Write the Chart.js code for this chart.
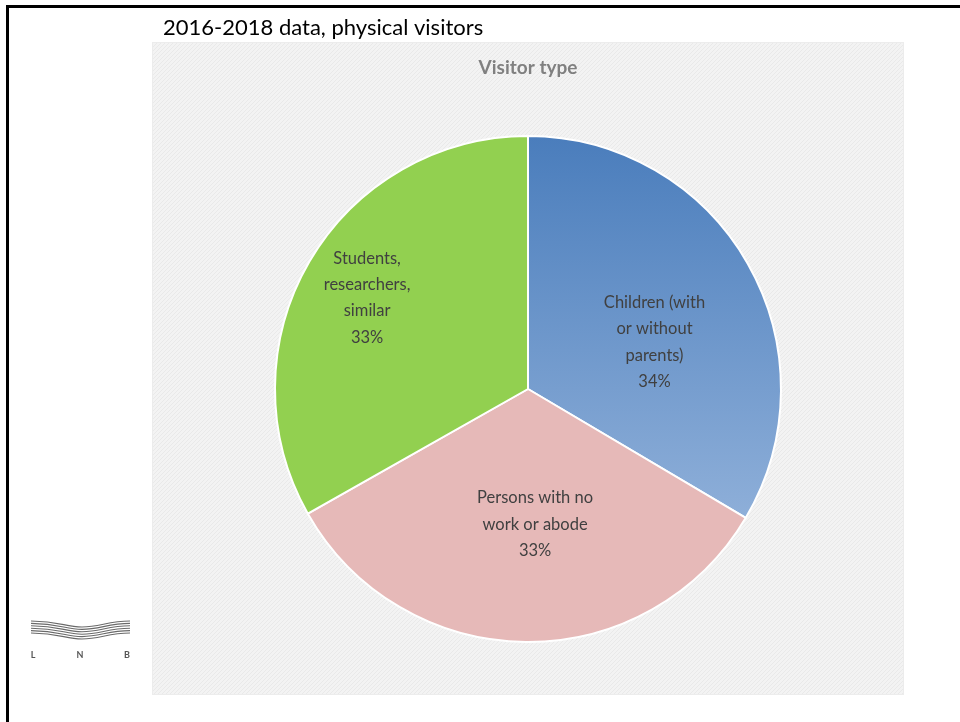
<!DOCTYPE html>
<html>
<head>
<meta charset="utf-8">
<script src="https://cdn.jsdelivr.net/npm/chart.js@4.4.1/dist/chart.umd.min.js"></script>
<style>
  html, body { margin: 0; padding: 0; background: #ffffff; }
  #wrap { position: relative; width: 960px; height: 722px; }
  canvas { display: block; }
</style>
</head>
<body>
<div id="wrap"><canvas id="c" width="960" height="722"></canvas></div>
<script>
// ---- Data ----
const chartTitle = "Visitor type";
const headerText = "2016-2018 data, physical visitors";
const categories = [
  ["Children (with", "or without", "parents)"],
  ["Persons with no", "work or abode"],
  ["Students,", "researchers,", "similar"]
];
const shares = [33.5, 33.3, 33.2];
const logoLetters = ["L", "N", "B"];

const FONT = "Lato, 'Open Sans', sans-serif";

// label offsets relative to pie radius (style/position options)
const labelOffsets = [[0.50, -0.185], [0.028, 0.535], [-0.636, -0.36]];

function makePattern(ctx) {
  const p = document.createElement('canvas');
  p.width = 4; p.height = 4;
  const pc = p.getContext('2d');
  pc.fillStyle = '#f3f3f3';
  pc.fillRect(0, 0, 4, 4);
  pc.fillStyle = '#e9e9e9';
  for (let i = 0; i < 4; i++) pc.fillRect(i, 3 - i, 1, 1);
  return ctx.createPattern(p, 'repeat');
}

const backdropPlugin = {
  id: 'backdrop',
  beforeDraw(chart) {
    const ctx = chart.ctx;
    ctx.save();
    ctx.fillStyle = '#ffffff';
    ctx.fillRect(0, 0, chart.width, chart.height);
    // frame lines
    ctx.fillStyle = '#000000';
    ctx.fillRect(6, 5, chart.width - 6, 3);
    ctx.fillRect(6, 5, 3, chart.height - 5);
    // panel
    ctx.fillStyle = makePattern(ctx);
    ctx.fillRect(152, 42, 752, 653);
    ctx.strokeStyle = '#ececec';
    ctx.lineWidth = 1;
    ctx.strokeRect(152.5, 42.5, 751, 652);
    // header
    ctx.fillStyle = '#000000';
    ctx.font = "22px " + FONT;
    ctx.textBaseline = 'alphabetic';
    ctx.textAlign = 'left';
    ctx.fillText(headerText, 163, 35);
    // logo waves
    ctx.strokeStyle = '#6a6a6a';
    ctx.lineWidth = 1.1;
    for (let i = 0; i < 6; i++) {
      const y0 = 621 + i * 2.4;
      ctx.beginPath();
      ctx.moveTo(31, y0);
      ctx.bezierCurveTo(60, y0, 65, y0 + 6, 82, y0 + 6);
      ctx.bezierCurveTo(100, y0 + 6, 108, y0, 130, y0);
      ctx.stroke();
    }
    ctx.fillStyle = '#555555';
    ctx.font = "bold 9px " + FONT;
    ctx.textAlign = 'center';
    ctx.textBaseline = 'middle';
    [33, 80, 127].forEach((x, i) => ctx.fillText(logoLetters[i], x, 655));
    ctx.restore();
  }
};

const labelPlugin = {
  id: 'sliceLabels',
  afterDatasetsDraw(chart) {
    const ctx = chart.ctx;
    const meta = chart.getDatasetMeta(0);
    const data = chart.data.datasets[0].data;
    const total = data.reduce((a, b) => a + b, 0);
    ctx.save();
    ctx.fillStyle = '#404040';
    ctx.font = "16.5px " + FONT;
    ctx.textAlign = 'center';
    ctx.textBaseline = 'middle';
    meta.data.forEach((arc, i) => {
      const r = arc.outerRadius;
      const cx = arc.x + labelOffsets[i][0] * r;
      const cy = arc.y + labelOffsets[i][1] * r;
      const lines = [...chart.data.labels[i], Math.round(data[i] / total * 100) + '%'];
      const lh = 26.3;
      const startY = cy - (lines.length - 1) * lh / 2;
      lines.forEach((t, k) => ctx.fillText(t, cx, startY + k * lh));
    });
    ctx.restore();
  }
};

const ctx = document.getElementById('c').getContext('2d');
new Chart(ctx, {
  type: 'pie',
  data: {
    labels: categories,
    datasets: [{
      data: shares,
      backgroundColor: (context) => {
        const i = context.dataIndex;
        if (i === 0) {
          const area = context.chart.chartArea;
          if (!area) return '#4f81bd';
          const meta = context.chart.getDatasetMeta(0);
          const arc = meta.data[0];
          const cy = arc && arc.y ? arc.y : (area.top + area.bottom) / 2;
          const r = arc && arc.outerRadius ? arc.outerRadius : 253;
          const g = context.chart.ctx.createLinearGradient(0, cy - r, 0, cy + r);
          g.addColorStop(0, '#4a7dbc');
          g.addColorStop(1, '#a4bfe2');
          return g;
        }
        return ['#4f81bd', '#e6b9b8', '#92d050'][i];
      },
      borderColor: '#ffffff',
      borderWidth: 2
    }]
  },
  options: {
    responsive: false,
    animation: false,
    radius: 253,
    layout: { padding: { top: 56, left: 274, right: 178, bottom: 22.8 } },
    plugins: {
      legend: { display: false },
      tooltip: { enabled: false },
      title: {
        display: true,
        text: chartTitle,
        color: '#808080',
        font: { family: FONT, size: 19, weight: 'bold', lineHeight: 1.2 },
        padding: { top: 0, bottom: 0 }
      }
    }
  },
  plugins: [backdropPlugin, labelPlugin]
});
</script>
</body>
</html>
